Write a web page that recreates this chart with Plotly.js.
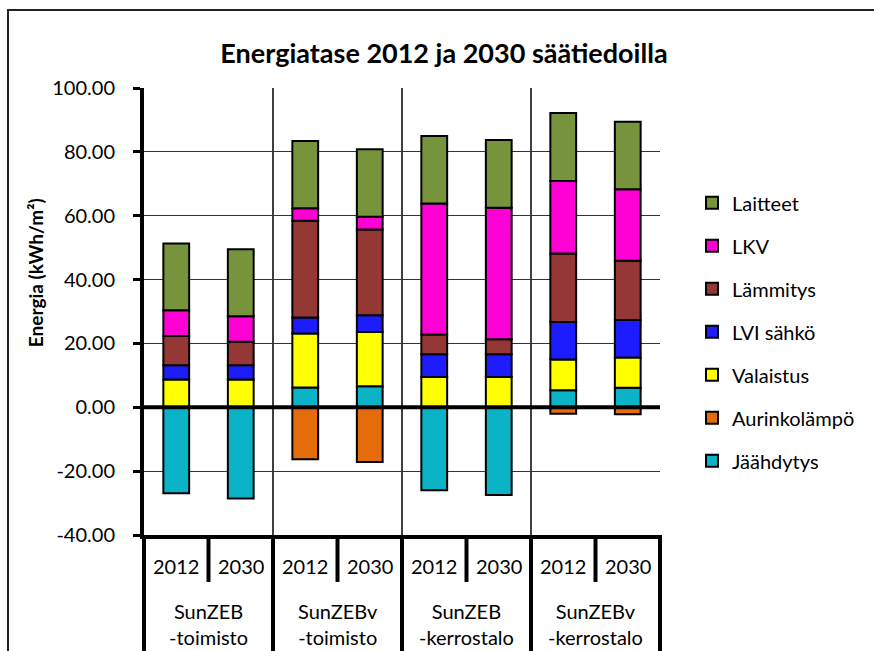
<!DOCTYPE html>
<html>
<head>
<meta charset="utf-8">
<script src="https://cdn.plot.ly/plotly-3.0.1.min.js"></script>
<style>
html,body{margin:0;padding:0;overflow:hidden;background:#fff;}
#wrap{position:relative;width:874px;height:651px;overflow:hidden;}
#chart{width:874px;height:651px;}
#frame{position:absolute;left:7px;top:9px;width:900px;height:700px;border:2px solid #222;pointer-events:none;box-sizing:border-box;}
</style>
</head>
<body>
<div id="wrap"><div id="chart"></div><div id="frame"></div></div>
<script>
// ---- data ----
const groups = ["SunZEB<br>-toimisto", "SunZEBv<br>-toimisto", "SunZEB<br>-kerrostalo", "SunZEBv<br>-kerrostalo"];
const years = ["2012", "2030"];

const jaahdytys   = [-26.9, -28.6,   6.2,   6.6, -26.0, -27.5,  5.3,  6.1];
const aurinko     = [  0.0,   0.0, -16.3, -17.1,   0.0,   0.0, -2.0, -2.2];
const valaistus   = [  8.7,   8.7,  16.9,  17.0,   9.5,   9.5,  9.7,  9.5];
const lviSahko    = [  4.5,   4.5,   5.0,   5.2,   7.1,   7.1, 11.7, 11.7];
const lammitys    = [  9.1,   7.3,  30.3,  26.9,   6.2,   4.7, 21.5, 18.6];
const lkv         = [  8.1,   8.0,   3.9,   4.0,  41.0,  41.2, 22.7, 22.4];
const laitteet    = [ 20.9,  21.0,  21.1,  21.1,  21.2,  21.2, 21.3, 21.1];

const seriesNames = ["Jäähdytys", "Aurinkolämpö", "Valaistus", "LVI sähkö", "Lämmitys", "LKV", "Laitteet"];
const seriesValues = [jaahdytys, aurinko, valaistus, lviSahko, lammitys, lkv, laitteet];
const seriesColors = ["#0AB3C6", "#E46C0A", "#FFFF00", "#1C1CFF", "#953735", "#FF00D4", "#77933C"];

const yTickValues = [-40, -20, 0, 20, 40, 60, 80, 100];

// ---- build ----
const outer = [], inner = [];
groups.forEach(g => years.forEach(y => { outer.push(g); inner.push(y); }));
const nBars = inner.length, nGroups = groups.length;

const FONT = "Lato, 'Open Sans', sans-serif";
const LABEL_SIZE = 20;

const traces = seriesNames.map((name, i) => ({
  type: "bar",
  name: name,
  legendgroup: "g" + i,
  legendrank: 1000 - i,
  x: [outer, inner],
  y: seriesValues[i],
  marker: { color: seriesColors[i], line: { color: "#000", width: 2 } },
  hoverinfo: "name+y"
}));

const shapes = [];
// vertical grid lines between groups (inside plot)
for (let k = 1; k < nGroups; k++) {
  shapes.push({ type: "line", xref: "paper", yref: "paper", x0: k / nGroups, x1: k / nGroups, y0: 0, y1: 1,
    line: { color: "#000", width: 1.5 }, layer: "below" });
}
// group dividers below axis
for (let k = 0; k <= nGroups; k++) {
  shapes.push({ type: "line", xref: "paper", yref: "paper", x0: k / nGroups, x1: k / nGroups, y0: 0, y1: -0.5,
    line: { color: "#000", width: 4 }, layer: "above" });
}
// year dividers inside each group
for (let k = 0; k < nGroups; k++) {
  for (let j = 1; j < years.length; j++) {
    const xb = (k * years.length + j) / nBars;
    shapes.push({ type: "line", xref: "paper", yref: "paper", x0: xb, x1: xb, y0: 0, y1: -0.105,
      line: { color: "#000", width: 4 }, layer: "above" });
  }
}
// zero line
shapes.push({ type: "line", xref: "paper", yref: "y", x0: 0, x1: 1, y0: 0, y1: 0, line: { color: "#000", width: 4 }, layer: "above" });

const annotations = [{
  text: "<b>Energia (kWh/m²)</b>", textangle: -90, xref: "paper", yref: "paper",
  x: -0.211, y: 0.586, xanchor: "center", yanchor: "middle", showarrow: false,
  font: { family: FONT, size: 19, color: "#000" }
}];
inner.forEach((t, i) => annotations.push({
  text: t, xref: "paper", yref: "paper", x: (i + 0.5) / nBars, y: -0.0694,
  xanchor: "center", yanchor: "middle", showarrow: false,
  font: { family: FONT, size: LABEL_SIZE, color: "#000" }
}));
groups.forEach((g, k) => annotations.push({
  text: g, xref: "paper", yref: "paper", x: (k + 0.5) / nGroups, y: -0.2,
  xanchor: "center", yanchor: "middle", showarrow: false,
  font: { family: FONT, size: LABEL_SIZE, color: "#000" }
}));

const layout = {
  width: 874, height: 651,
  margin: { l: 144, r: 214, t: 88, b: 116 },
  paper_bgcolor: "#fff", plot_bgcolor: "#fff",
  font: { family: FONT, color: "#000", size: LABEL_SIZE },
  title: { text: "<b>Energiatase 2012 ja 2030 säätiedoilla</b>", font: { family: FONT, size: 27, color: "#000" },
    x: 0.508, xanchor: "center", y: 0.918, yanchor: "middle" },
  barmode: "relative",
  bargap: 0.6,
  showlegend: true,
  legend: { x: 1.062, xanchor: "left", y: 0.787, yanchor: "top", traceorder: "grouped", tracegroupgap: 14,
    font: { family: FONT, size: 20, color: "#000" }, bgcolor: "rgba(0,0,0,0)" },
  xaxis: {
    type: "multicategory",
    showgrid: false,
    showline: true, linecolor: "#000", linewidth: 4,
    ticks: "", showticklabels: false, showdividers: false,
    zeroline: false
  },
  yaxis: {
    range: [-40, 100], tickmode: "array", tickvals: yTickValues,
    ticktext: yTickValues.map(v => v.toFixed(2)),
    showgrid: true, gridcolor: "#333", gridwidth: 1,
    zeroline: false,
    showline: true, linecolor: "#000", linewidth: 4,
    ticks: "outside", ticklen: 7, tickwidth: 3, tickcolor: "#000",
    ticklabelstandoff: 14,
    tickfont: { family: FONT, size: LABEL_SIZE, color: "#000" }
  },
  annotations: annotations,
  shapes: shapes
};

Plotly.newPlot("chart", traces, layout, { displayModeBar: false, staticPlot: true });
</script>
</body>
</html>
